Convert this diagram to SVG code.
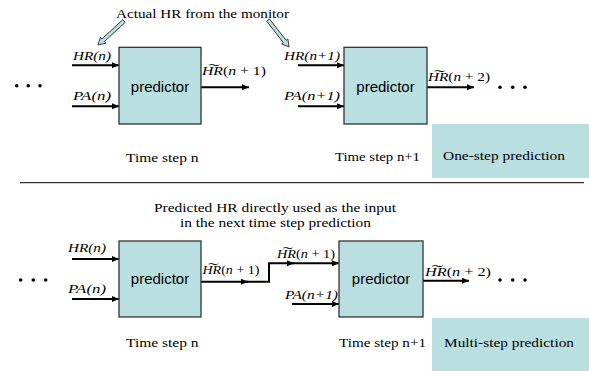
<svg xmlns="http://www.w3.org/2000/svg" width="589" height="371" viewBox="0 0 589 371">
<style>
.s{font-family:"Liberation Serif","Times New Roman","DejaVu Serif",serif;font-size:13px;fill:#000}
.i{font-style:italic}
.p{font-family:"Liberation Sans",Arial,sans-serif;font-size:15px;fill:#000;text-anchor:middle}
.box{fill:#b9dfe1;stroke:#333;stroke-width:1.3}
.tb{fill:#b9dfe1;stroke:none}
.ln{stroke:#000;stroke-width:2;fill:none}
.co{fill:#b9dfe1;stroke:#333;stroke-width:0.9}
</style>
<defs>
<marker id="ah" markerUnits="userSpaceOnUse" markerWidth="8" markerHeight="7" refX="7" refY="3" orient="auto">
<path d="M0,0 L7,3 L0,6 z" fill="#000"/>
</marker>
</defs>

<rect class="tb" x="432" y="124" width="157" height="54"/>
<rect class="tb" x="432" y="318" width="157" height="53"/>
<line x1="20" y1="182.7" x2="584" y2="182.7" stroke="#000" stroke-width="1"/>

<g id="note-top">
<text class="s" x="116" y="18" textLength="173" lengthAdjust="spacingAndGlyphs">Actual HR from the monitor</text>
<polygon class="co" transform="translate(124,21) rotate(137.3)" points="0,-1.8 28.4,-1.8 28.4,-4 35.4,0 28.4,4 28.4,1.8 0,1.8"/>
<polygon class="co" transform="translate(268,20) rotate(52.1)" points="0,-1.8 27.2,-1.8 27.2,-4 34.2,0 27.2,4 27.2,1.8 0,1.8"/>
</g>

<g id="dots">
<circle cx="16.7" cy="85.7" r="1.8"/><circle cx="28.3" cy="85.7" r="1.8"/><circle cx="40" cy="85.7" r="1.8"/>
<circle cx="500" cy="87.3" r="1.8"/><circle cx="512.7" cy="87.3" r="1.8"/><circle cx="525" cy="87.3" r="1.8"/>
<circle cx="20.7" cy="280" r="1.8"/><circle cx="33.3" cy="280" r="1.8"/><circle cx="45.7" cy="280" r="1.8"/>
<circle cx="500" cy="280" r="1.8"/><circle cx="512.7" cy="280" r="1.8"/><circle cx="525" cy="280" r="1.8"/>
</g>

<g id="connectors">
<path class="ln" d="M72,65.3 H119" marker-end="url(#ah)"/>
<path class="ln" d="M72,106.3 H119" marker-end="url(#ah)"/>
<path class="ln" d="M201,87.3 H249" marker-end="url(#ah)"/>
<path class="ln" d="M298,65.3 H344" marker-end="url(#ah)"/>
<path class="ln" d="M298,106.3 H344" marker-end="url(#ah)"/>
<path class="ln" d="M427,87.3 H474" marker-end="url(#ah)"/>
<path class="ln" d="M72,259 H119" marker-end="url(#ah)"/>
<path class="ln" d="M72,299 H119" marker-end="url(#ah)"/>
<path class="ln" d="M201,281.7 H248" marker-end="url(#ah)"/>
<path class="ln" d="M246,281.7 H269 V263.3 H294" marker-end="url(#ah)"/>
<path class="ln" d="M292,263.3 H339" marker-end="url(#ah)"/>
<path class="ln" d="M292,304 H339" marker-end="url(#ah)"/>
<path class="ln" d="M423,280.7 H469" marker-end="url(#ah)"/>
</g>

<g id="predictor1">
<rect class="box" x="119" y="47.3" width="82" height="76.7"/>
<text class="p" x="160" y="92">predictor</text>
</g>
<g id="predictor2">
<rect class="box" x="344" y="47.3" width="83" height="76.7"/>
<text class="p" x="385.5" y="92">predictor</text>
</g>
<g id="predictor3">
<rect class="box" x="119" y="241" width="82" height="76"/>
<text class="p" x="160" y="284">predictor</text>
</g>
<g id="predictor4">
<rect class="box" x="339" y="241" width="84" height="76"/>
<text class="p" x="381" y="284">predictor</text>
</g>

<g id="labels">
<text class="s i" x="73" y="60" textLength="38" lengthAdjust="spacingAndGlyphs">HR(n)</text>
<text class="s i" x="73" y="99.5" textLength="38" lengthAdjust="spacingAndGlyphs">PA(n)</text>
<text class="s i" x="284" y="59.5" textLength="56" lengthAdjust="spacingAndGlyphs">HR(n+1)</text>
<text class="s i" x="284" y="100" textLength="56" lengthAdjust="spacingAndGlyphs">PA(n+1)</text>
<text class="s i" x="68" y="252" textLength="38" lengthAdjust="spacingAndGlyphs">HR(n)</text>
<text class="s i" x="68" y="293" textLength="38" lengthAdjust="spacingAndGlyphs">PA(n)</text>
<text class="s i" x="285" y="299" textLength="53" lengthAdjust="spacingAndGlyphs">PA(n+1)</text>

<text class="s" x="202" y="75" textLength="64" lengthAdjust="spacingAndGlyphs"><tspan class="i">H&#x360;R</tspan>(<tspan class="i">n</tspan> + 1)</text>
<text class="s" x="428" y="81" textLength="62" lengthAdjust="spacingAndGlyphs"><tspan class="i">H&#x360;R</tspan>(<tspan class="i">n</tspan> + 2)</text>
<text class="s" x="202.5" y="273.5" textLength="57" lengthAdjust="spacingAndGlyphs"><tspan class="i">H&#x360;R</tspan>(<tspan class="i">n</tspan> + 1)</text>
<text class="s" x="277" y="258.3" textLength="58" lengthAdjust="spacingAndGlyphs"><tspan class="i">H&#x360;R</tspan>(<tspan class="i">n</tspan> + 1)</text>
<text class="s" x="425" y="276" textLength="66" lengthAdjust="spacingAndGlyphs"><tspan class="i">H&#x360;R</tspan>(<tspan class="i">n</tspan> + 2)</text>
</g>

<g id="captions">
<text class="s" x="126" y="161.5" textLength="72.5" lengthAdjust="spacingAndGlyphs">Time step n</text>
<text class="s" x="335" y="161" textLength="85" lengthAdjust="spacingAndGlyphs">Time step n+1</text>
<text class="s" x="443" y="160" textLength="122" lengthAdjust="spacingAndGlyphs">One-step prediction</text>
<text class="s" x="154" y="212" textLength="242" lengthAdjust="spacingAndGlyphs">Predicted HR directly used as the input</text>
<text class="s" x="180" y="227" textLength="191" lengthAdjust="spacingAndGlyphs">in the next time step prediction</text>
<text class="s" x="126" y="347" textLength="72.5" lengthAdjust="spacingAndGlyphs">Time step n</text>
<text class="s" x="339" y="347" textLength="87" lengthAdjust="spacingAndGlyphs">Time step n+1</text>
<text class="s" x="444" y="347" textLength="130" lengthAdjust="spacingAndGlyphs">Multi-step prediction</text>
</g>
</svg>
